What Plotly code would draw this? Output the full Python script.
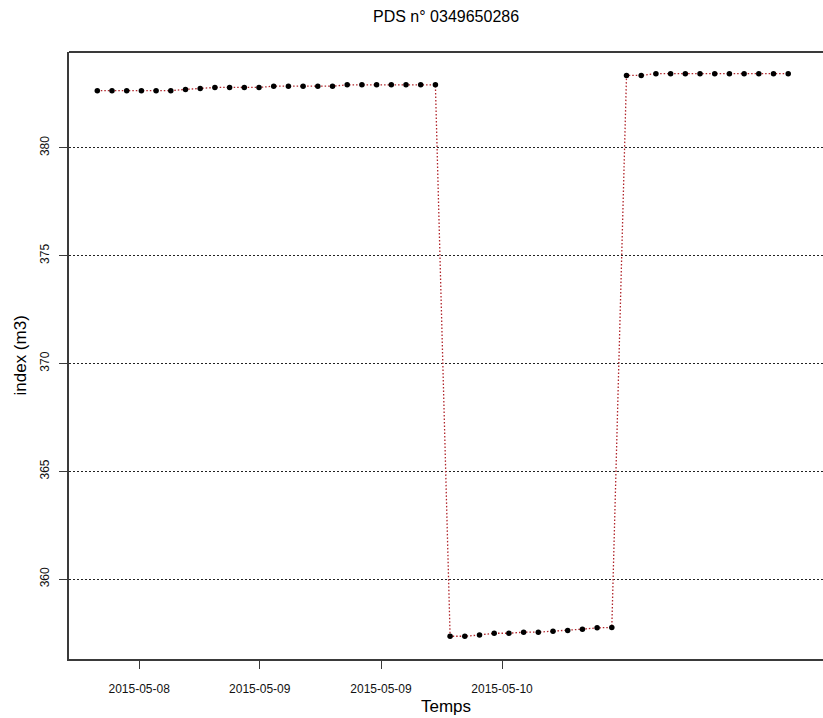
import plotly.graph_objects as go

# Hourly meter readings (index, m3)
temps = [
    "2015-05-08 21:00", "2015-05-08 22:00", "2015-05-08 23:00", "2015-05-09 00:00",
    "2015-05-09 01:00", "2015-05-09 02:00", "2015-05-09 03:00", "2015-05-09 04:00",
    "2015-05-09 05:00", "2015-05-09 06:00", "2015-05-09 07:00", "2015-05-09 08:00",
    "2015-05-09 09:00", "2015-05-09 10:00", "2015-05-09 11:00", "2015-05-09 12:00",
    "2015-05-09 13:00", "2015-05-09 14:00", "2015-05-09 15:00", "2015-05-09 16:00",
    "2015-05-09 17:00", "2015-05-09 18:00", "2015-05-09 19:00", "2015-05-09 20:00",
    "2015-05-09 21:00", "2015-05-09 22:00", "2015-05-09 23:00", "2015-05-10 00:00",
    "2015-05-10 01:00", "2015-05-10 02:00", "2015-05-10 03:00", "2015-05-10 04:00",
    "2015-05-10 05:00", "2015-05-10 06:00", "2015-05-10 07:00", "2015-05-10 08:00",
    "2015-05-10 09:00", "2015-05-10 10:00", "2015-05-10 11:00", "2015-05-10 12:00",
    "2015-05-10 13:00", "2015-05-10 14:00", "2015-05-10 15:00", "2015-05-10 16:00",
    "2015-05-10 17:00", "2015-05-10 18:00", "2015-05-10 19:00", "2015-05-10 20:00",
]
index_m3 = [
    382.65, 382.65, 382.65, 382.65, 382.65, 382.65, 382.71, 382.75,
    382.80, 382.80, 382.80, 382.80, 382.86, 382.86, 382.86, 382.86,
    382.86, 382.92, 382.92, 382.92, 382.92, 382.92, 382.92, 382.92,
    357.35, 357.35, 357.41, 357.49, 357.49, 357.54, 357.54, 357.58,
    357.62, 357.68, 357.74, 357.76,
    383.36, 383.36, 383.44, 383.44, 383.44, 383.44, 383.44, 383.44,
    383.44, 383.44, 383.44, 383.44,
]

tick_times = ["2015-05-08 23:51", "2015-05-09 08:03", "2015-05-09 16:18", "2015-05-10 00:32"]
tick_labels = ["2015-05-08", "2015-05-09", "2015-05-09", "2015-05-10"]
y_ticks = [360, 365, 370, 375, 380]

FONT = "Liberation Sans, Arial, sans-serif"
FRAME = "#3a3a3a"

fig = go.Figure()
fig.add_trace(go.Scatter(
    x=temps, y=index_m3, mode="lines+markers",
    line=dict(color="#B0242A", width=1.3, dash="1.5px,2px"),
    marker=dict(color="black", size=5.5),
    showlegend=False,
))

fig.update_layout(
    width=823, height=718,
    margin=dict(l=69, r=0, t=52, b=59),
    paper_bgcolor="white", plot_bgcolor="white",
    font=dict(family=FONT, color="black"),
    xaxis=dict(
        range=["2015-05-08 19:04:30", "2015-05-10 22:22"],
        tickmode="array", tickvals=tick_times, ticktext=tick_labels,
        ticks="outside", ticklen=8, tickcolor=FRAME, tickwidth=1.2,
        tickfont=dict(size=12, color="#111111"), ticklabelstandoff=10,
        showgrid=False, zeroline=False,
        showline=True, linecolor=FRAME, linewidth=1.5,
    ),
    yaxis=dict(
        range=[356.296, 384.444],
        tickmode="array", tickvals=y_ticks,
        ticks="outside", ticklen=8, tickcolor=FRAME, tickwidth=1.2,
        tickfont=dict(size=12, color="#111111"), tickangle=-90, ticklabelstandoff=5,
        showgrid=True, gridcolor="#222222", gridwidth=1, griddash="1.5px,2.5px",
        zeroline=False,
        showline=True, linecolor=FRAME, linewidth=1.5,
    ),
    shapes=[dict(type="line", xref="paper", yref="paper", x0=0, x1=1, y0=1, y1=1,
                 line=dict(color=FRAME, width=1.8))],
    annotations=[
        dict(text="PDS n° 0349650286", xref="paper", yref="paper", x=0.5, y=1,
             yanchor="middle", yshift=36, showarrow=False, font=dict(size=16)),
        dict(text="Temps", xref="paper", yref="paper", x=0.5, y=0,
             yanchor="middle", yshift=-47, showarrow=False, font=dict(size=17)),
        dict(text="index (m3)", xref="paper", yref="paper", x=0, y=0.5,
             xanchor="center", xshift=-49, textangle=-90, showarrow=False,
             font=dict(size=17)),
    ],
)

fig.write_html("out.html")
